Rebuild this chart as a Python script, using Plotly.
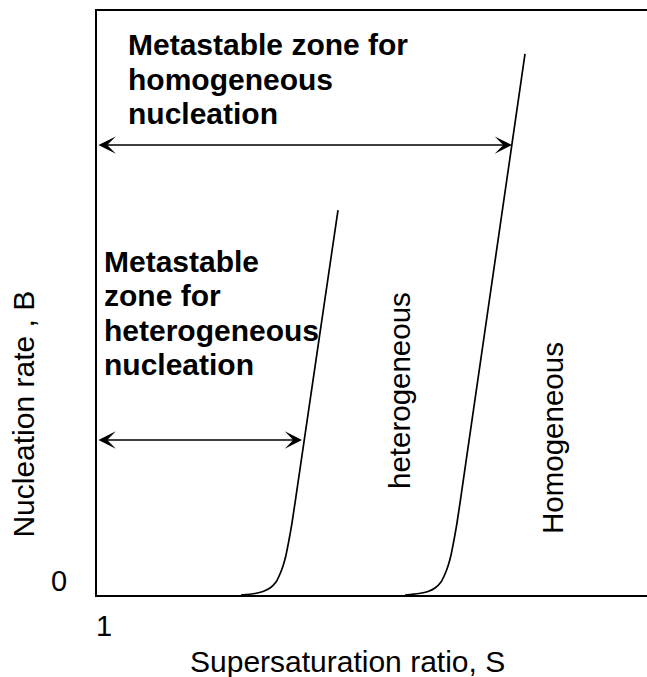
import plotly.graph_objects as go

# Nucleation rate B against supersaturation ratio S (arbitrary linear units)
hetero_S = [1.3927, 1.4309, 1.4527, 1.4718, 1.4882, 1.4991, 1.5073,
            1.5155, 1.5236, 1.5318, 1.5400, 1.6573]
hetero_B = [0.0, 0.26, 0.60, 1.20, 2.23, 3.60, 4.97,
            6.85, 9.42, 12.33, 15.75, 65.92]

homo_S = [1.8400, 1.8782, 1.9027, 1.9218, 1.9382, 1.9491, 1.9573,
          1.9655, 1.9736, 1.9818, 1.9900, 2.1673]
homo_B = [0.0, 0.26, 0.60, 1.20, 2.23, 3.60, 4.97,
          6.85, 9.42, 12.33, 15.75, 92.64]

# Metastable zone widths: S where each curve is reached, and the B level of the arrow
hetero_zone_S = 1.5591
hetero_zone_B = 26.54
homo_zone_S = 2.1318
homo_zone_B = 77.05

x_tick_vals = [1]
x_tick_text = ["1"]
y_tick_vals = [0]
y_tick_text = ["0"]

homo_zone_lines = ["Metastable zone for", "homogeneous", "nucleation"]
hetero_zone_lines = ["Metastable", "zone for", "heterogeneous", "nucleation"]

FONT = "Liberation Sans, Arial, Helvetica, sans-serif"
W, H = 647, 677
ML, MR, MT, MB = 97, 0, 11, 82
PW, PH = W - ML - MR, H - MT - MB


def px(x):
    return (x - ML) / PW


def py(y):
    return (H - MB - y) / PH


fig = go.Figure()
for xs, ys in ((hetero_S, hetero_B), (homo_S, homo_B)):
    fig.add_trace(go.Scatter(
        x=xs, y=ys, mode="lines",
        line=dict(color="black", width=1.7, shape="spline", smoothing=0.7),
        hoverinfo="skip", showlegend=False,
    ))

annotations = []

# Double-headed arrows marking the metastable zones
for s_end, b in ((hetero_zone_S, hetero_zone_B), (homo_zone_S, homo_zone_B)):
    annotations.append(dict(
        x=s_end, y=b, ax=1, ay=b, xref="x", yref="y", axref="x", ayref="y",
        text="", showarrow=True, arrowside="end+start",
        arrowhead=3, startarrowhead=3, arrowsize=1.8, startarrowsize=1.8,
        arrowwidth=1.6, arrowcolor="black", standoff=0, startstandoff=0,
    ))

bold = dict(family=FONT, size=30, color="black")
for i, line in enumerate(homo_zone_lines):
    annotations.append(dict(
        x=px(126), y=py(44.6 + 34.5 * i), xref="paper", yref="paper",
        text="<b>%s</b>" % line, showarrow=False, font=bold,
        xanchor="left", yanchor="middle",
    ))
for i, line in enumerate(hetero_zone_lines):
    annotations.append(dict(
        x=px(102), y=py(261.6 + 34.3 * i), xref="paper", yref="paper",
        text="<b>%s</b>" % line, showarrow=False, font=bold,
        xanchor="left", yanchor="middle",
    ))

regular = dict(family=FONT, size=29.5, color="black")
for label, cx, cy in (("heterogeneous", 400, 391), ("Homogeneous", 552, 438)):
    annotations.append(dict(
        x=px(cx), y=py(cy), xref="paper", yref="paper", text=label,
        textangle=-90, showarrow=False, font=regular,
        xanchor="center", yanchor="middle",
    ))

# Axis titles
title_font = dict(family=FONT, size=30, color="black")
annotations.append(dict(
    x=px(347), y=py(661.6), xref="paper", yref="paper",
    text="Supersaturation ratio, S", showarrow=False, font=title_font,
    xanchor="center", yanchor="middle",
))
annotations.append(dict(
    x=px(23.6), y=py(414), xref="paper", yref="paper",
    text="Nucleation rate , B", textangle=-90, showarrow=False,
    font=title_font, xanchor="center", yanchor="middle",
))

fig.update_layout(
    width=W, height=H,
    margin=dict(l=ML, r=MR, t=MT, b=MB, pad=0),
    paper_bgcolor="white", plot_bgcolor="white",
    showlegend=False,
    annotations=annotations,
    xaxis=dict(
        range=[1, 2.5], showgrid=False, zeroline=False,
        showline=True, linecolor="black", linewidth=2, mirror=True,
        ticks="", tickvals=x_tick_vals, ticktext=x_tick_text,
        tickfont=dict(family=FONT, size=29, color="black"),
        ticklabelshift=7, ticklabelstandoff=4, fixedrange=True,
    ),
    yaxis=dict(
        range=[0, 100], showgrid=False, zeroline=False,
        showline=True, linecolor="black", linewidth=2, mirror=False,
        ticks="", tickvals=y_tick_vals, ticktext=y_tick_text,
        tickfont=dict(family=FONT, size=29, color="black"),
        ticklabelshift=-14, ticklabelstandoff=22, fixedrange=True,
    ),
)

fig.write_html("out.html", config={"displayModeBar": False})
